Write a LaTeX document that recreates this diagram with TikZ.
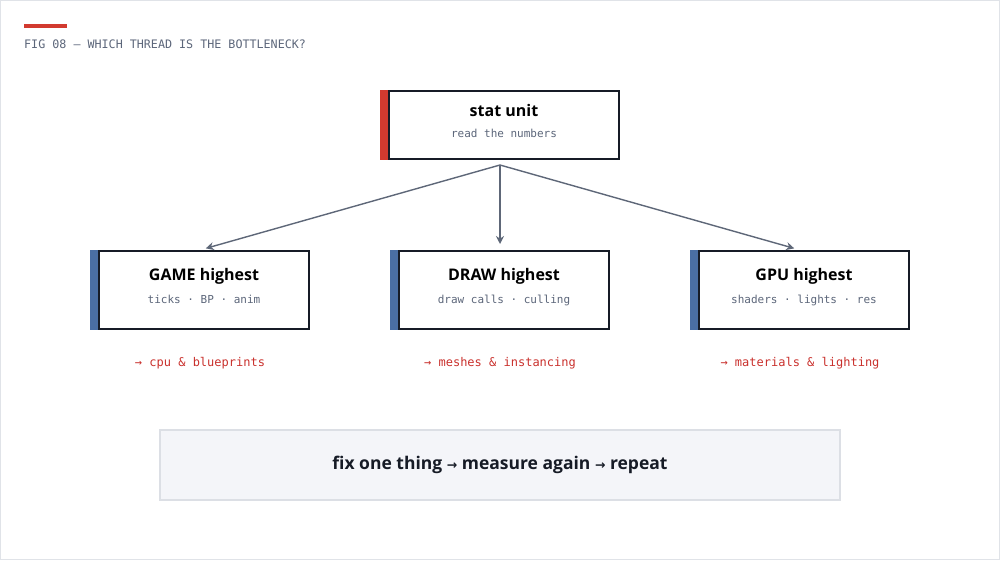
\documentclass[tikz,border=0pt]{standalone}
\usepackage{fontspec}
\setmainfont{Open Sans}
\setmonofont{DejaVu Sans Mono}
\newfontfamily\arrowfont{DejaVu Sans}
\usetikzlibrary{positioning,arrows.meta}

\definecolor{ink}{HTML}{161B26}
\definecolor{subgrey}{HTML}{5C667A}
\definecolor{linkgrey}{HTML}{5E6778}
\definecolor{accentred}{HTML}{D23A2F}
\definecolor{notered}{HTML}{C9302C}
\definecolor{accentblue}{HTML}{4A6EA3}
\definecolor{panelfill}{HTML}{F4F5F9}
\definecolor{panelline}{HTML}{DCDFE5}
\definecolor{frameline}{HTML}{E0E3E8}

\newcommand{\headtxt}[1]{{\fontsize{16}{18}\selectfont\bfseries #1}}
\newcommand{\subtxt}[1]{{\fontsize{11}{13}\selectfont\ttfamily\color{subgrey}#1\rule[-8pt]{0pt}{0pt}}}
\newcommand{\thento}{{\arrowfont\fontsize{12.5}{14}\selectfont →}}

\begin{document}
\begin{tikzpicture}[x=1pt, y=-1pt, node distance=90pt,
    main/.style = {draw=ink, line width=2pt, fill=white, align=center, inner sep=0pt,
      minimum width=210pt, minimum height=78pt},
    note/.style = {font=\fontsize{12}{14}\selectfont\ttfamily, text=notered, inner sep=0pt},
    link/.style = {draw=linkgrey, line width=1.4pt, shorten >=6pt,
      -{Stealth[length=8pt,width=8pt]}}]
      \useasboundingbox (0,0) rectangle (1000,560);
      \draw[frameline, line width=1pt] (0.5,0.5) rectangle (999.5,559.5);

      \fill[accentred] (24,24) rectangle (67,28);
      \node[anchor=base west, inner sep=0pt, text=subgrey, font=\fontsize{11.7}{13}\selectfont\ttfamily]
        (caption) at (24,48) {FIG 08 — WHICH THREAD IS THE BOTTLENECK?};

      \node[main, minimum width=230pt, minimum height=68pt] (stat) at (504,125)
        {\headtxt{stat unit}\\[9pt]\subtxt{read the numbers}};
      \node[main] (draw) [below=of stat] {\headtxt{DRAW highest}\\[9pt]\subtxt{draw calls · culling}};
      \node[main] (game) [left=88pt of draw] {\headtxt{GAME highest}\\[9pt]\subtxt{ticks · BP · anim}};
      \node[main] (gpu) [right=88pt of draw] {\headtxt{GPU highest}\\[9pt]\subtxt{shaders · lights · res}};

      \fill[accentred] ([xshift=-8pt]stat.north west) rectangle (stat.south west);
      \foreach \n in {game, draw, gpu}
        \fill[accentblue] ([xshift=-8pt]\n.north west) rectangle (\n.south west);

      \node[note] (gamenote) [below=27pt of game, xshift=-4pt] {→ cpu \& blueprints};
      \node[note] (drawnote) [below=27pt of draw, xshift=-4pt] {→ meshes \& instancing};
      \node[note] (gpunote) [below=27pt of gpu, xshift=-4pt] {→ materials \& lighting};

      \coordinate (fork) at ([xshift=-4pt, yshift=-5pt]stat.south);
      \path
      (fork) edge[link] ([xshift=-4pt]game.north)
      (fork) edge[link] ([xshift=-4pt]draw.north)
      (fork) edge[link] ([xshift=-4pt]gpu.north);

      \node[draw=panelline, line width=1.2pt, fill=panelfill, minimum width=680pt, minimum height=70pt,
        font=\fontsize{17.5}{20}\selectfont\bfseries, text=ink] (loop) at (500,465)
        {fix one thing \thento{} measure again \thento{} repeat};
    \end{tikzpicture}
\end{document}
